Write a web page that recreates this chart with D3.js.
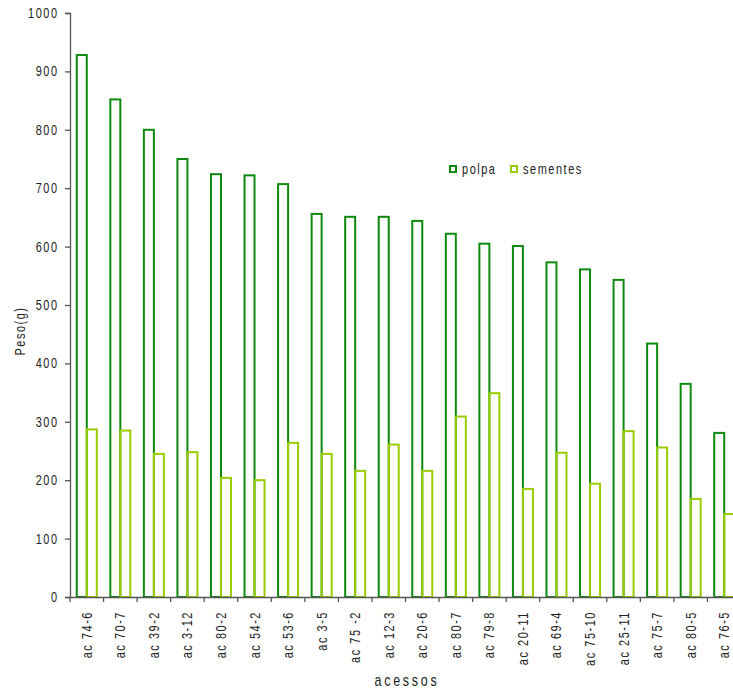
<!DOCTYPE html>
<html><head><meta charset="utf-8">
<script src="https://cdn.jsdelivr.net/npm/d3@7/dist/d3.min.js"></script>
<style>body{margin:0;background:#fff}svg{display:block}text{font-family:"Liberation Sans",Arial,sans-serif;fill:#222}</style>
</head><body><svg id="c" width="733" height="690"></svg>
<script>
const categories = ["ac 74-6","ac 70-7","ac 39-2","ac 3-12","ac 80-2","ac 54-2","ac 53-6","ac 3-5","ac 75 -2","ac 12-3","ac 20-6","ac 80-7","ac 79-8","ac 20-11","ac 69-4","ac 75-10","ac 25-11","ac 75-7","ac 80-5","ac 76-5"];
const polpa = [928,852,800,750,724,722,707,656,651,651,644,622,605,601,573,561,543,434,365,281];
const sementes = [287,285,245,248,204,200,264,245,216,261,216,309,349,185,247,194,284,256,168,142];
const yTicks = [0,100,200,300,400,500,600,700,800,900,1000];
const seriesNames = ["polpa","sementes"];
const colors = ["#0d8a0d","#99cc00"];

const svg = d3.select("#c");
const x0 = 70, y0 = 597, yTop = 13, step = 33.55;
const SX = 0.78; // condensed text
const x = d3.scaleBand().domain(categories).range([x0, x0 + step*categories.length]).paddingInner(0).paddingOuter(0);
const y = d3.scaleLinear().domain([0,1000]).range([y0, yTop]);
const barW = 10;

function label(parent, px, py, rot, txt, size, spacing, anchor){
  return parent.append("text")
    .attr("transform",`translate(${px},${py}) rotate(${rot}) scale(${SX},1)`)
    .attr("text-anchor",anchor)
    .style("font-size",size+"px").style("letter-spacing",spacing+"px")
    .text(txt);
}

const g = svg.append("g");
categories.forEach((c,i)=>{
  const cx = x(c) + x.bandwidth()/2;
  [polpa[i], sementes[i]].forEach((v,k)=>{
    g.append("rect")
      .attr("x", cx - barW + k*barW)
      .attr("y", y(v))
      .attr("width", barW)
      .attr("height", y0 - y(v))
      .attr("fill","none")
      .attr("stroke", colors[k])
      .attr("stroke-width", 2);
  });
});

// y axis
const ya = svg.append("g").attr("transform",`translate(${x0},0)`)
  .call(d3.axisLeft(y).tickValues(yTicks).tickSize(5).tickFormat(d3.format("d")));
ya.select(".domain").attr("stroke","#555").attr("stroke-width",1.3);
ya.selectAll(".tick line").attr("stroke","#555").attr("stroke-width",1.3);
ya.selectAll(".tick text").remove();
yTicks.forEach(t=>{
  label(svg, 57 + 2*SX, y(t) + 5, 0, d3.format("d")(t), 14, 2, "end");
});

// x axis
const xa = svg.append("g").attr("transform",`translate(0,${y0})`)
  .call(d3.axisBottom(x).tickSize(0).tickPadding(0));
xa.select(".domain").attr("stroke","#555").attr("stroke-width",1.3);
xa.selectAll(".tick line").remove();
xa.selectAll(".tick text").remove();
const bounds = categories.map(c=>x(c)).concat([x0 + step*categories.length]);
xa.selectAll(".bt").data(bounds).enter().append("line")
  .attr("x1",d=>d).attr("x2",d=>d).attr("y1",0).attr("y2",5).attr("stroke","#555").attr("stroke-width",1.3);
categories.forEach(c=>{
  label(svg, x(c)+x.bandwidth()/2+5, y0 + 14, -90, c, 14, 2, "end");
});

// axis titles
label(svg, 407, 686, 0, "acessos", 16, 3.5, "middle");
label(svg, 25, 331, -90, "Peso(g)", 14, 2, "middle");

// legend
const legX = [450, 511];
seriesNames.forEach((n,k)=>{
  svg.append("rect").attr("x",legX[k]).attr("y",166).attr("width",6).attr("height",6)
    .attr("fill","none").attr("stroke",colors[k]).attr("stroke-width",2);
  label(svg, legX[k]+12, 174, 0, n, 14, 2, "start");
});
</script></body></html>
